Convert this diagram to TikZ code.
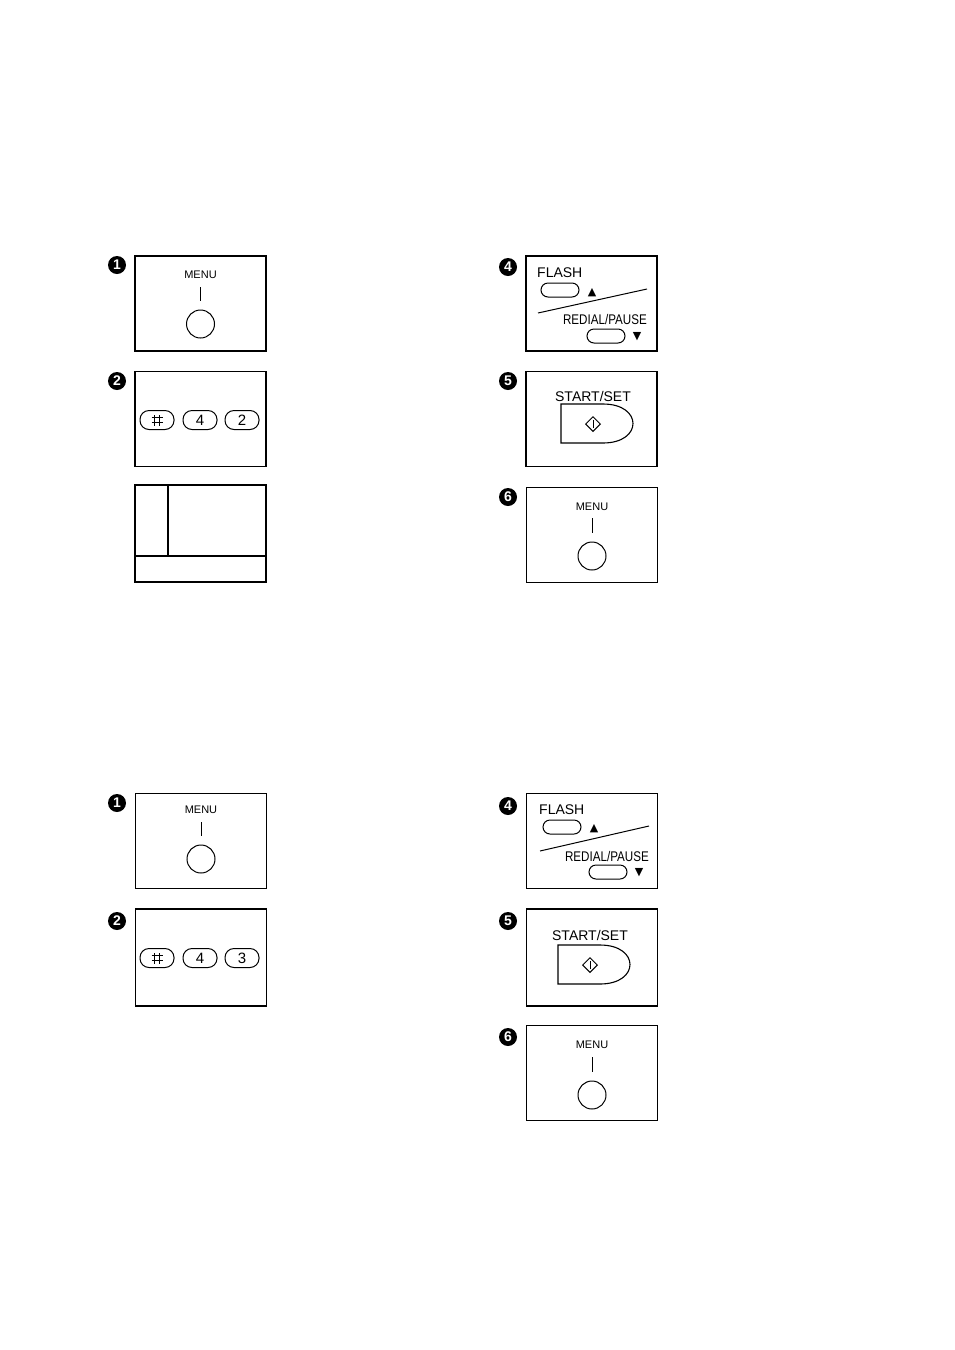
\documentclass[tikz,border=0pt]{standalone}
\usepackage{fontspec}
\usepackage{graphicx}
\setmainfont{Liberation Sans}
\usetikzlibrary{shapes.geometric}
\tikzset{
  panel/.style={draw, line width=1.1pt, minimum width=131pt, minimum height=95pt, inner sep=0pt},
  marker/.style={circle, fill=black, minimum size=18pt, inner sep=0pt, text=white, font=\fontsize{14}{14}\selectfont\bfseries},
  menutxt/.style={font=\fontsize{11}{11}\selectfont, inner sep=0pt},
  bigtxt/.style={font=\fontsize{14}{14}\selectfont, inner sep=0pt},
  roundbtn/.style={draw, circle, line width=1pt, minimum size=28pt, inner sep=0pt},
  keybtn/.style={draw, line width=1pt, rounded corners=9pt, minimum width=34pt, minimum height=19pt, inner sep=0pt, font=\fontsize{15}{15}\selectfont},
  ovalbtn/.style={draw, line width=1pt, rounded corners=7pt, minimum width=38pt, minimum height=14pt, inner sep=0pt},
  thin/.style={line width=1pt},
  tri/.style={font=\fontsize{11}{11}\selectfont, inner sep=0pt}
}
\newcommand{\hashmark}[1]{%
  \draw[line width=1pt] ([shift={(-5.5pt,-2.5pt)}]#1.center) -- ++(11pt,0pt);
  \draw[line width=1pt] ([shift={(-5.5pt,2.5pt)}]#1.center) -- ++(11pt,0pt);
  \draw[line width=1pt] ([shift={(-2.5pt,-5.5pt)}]#1.center) -- ++(0pt,11pt);
  \draw[line width=1pt] ([shift={(2.5pt,-5.5pt)}]#1.center) -- ++(0pt,11pt);}
% menu panel: #1 prefix, #2 cx, #3 cy(box), #4 marker x, #5 marker y, #6 digit, #7 menu y, #8 line top, #9 line bottom
\newcommand{\menupanel}[9]{%
  \node[panel] (#1box) at (#2,#3) {};
  \node[marker] (#1num) at (#4,#5) {#6};
  \node[menutxt] (#1lbl) at (#2,#7) {MENU};
  \coordinate (#1lt) at (#2,#8);
  \coordinate (#1lb) at (#2,#9);
  \draw[thin] (#1lt) -- (#1lb);
  \node[roundbtn] (#1btn) at ([yshift=-23pt]#1lb) {};}
\begin{document}
\begin{tikzpicture}[x=1pt,y=-1pt]
\useasboundingbox (0,0) rectangle (954,1350);
\fill[white] (0,0) rectangle (954,1350);

% ===== Upper set =====
\menupanel{ua}{200.5}{303.5}{117}{265}{1}{275}{287}{301}
% panel 2
\node[panel] (ubbox) at (200.5,419) {};
\node[marker] (ubnum) at (117,381) {2};
\node[keybtn] (ubk1) at (157,420) {};
\hashmark{ubk1}
\node[keybtn] (ubk2) at (200,420) {4};
\node[keybtn] (ubk3) at (242,420) {2};
% panel 3 (blank)
\node[panel, minimum height=97pt] (ucbox) at (200.5,533.5) {};
\coordinate (ucv1) at (168,485);
\coordinate (ucv2) at (168,556);
\coordinate (uch1) at (135,556);
\coordinate (uch2) at (266,556);
\draw[line width=1.1pt] (ucv1) -- (ucv2);
\draw[line width=1.1pt] (uch1) -- (uch2);
% panel 4
\node[panel] (udbox) at (591.5,303.5) {};
\node[marker] (udnum) at (508,267) {4};
\node[bigtxt, anchor=west] (udflash) at (537,273) {FLASH};
\node[ovalbtn] (udb1) at (560,290) {};
\node[tri] (udup) at (592,293) {\fontspec{DejaVu Sans}▲};
\coordinate (uds1) at (538,313);
\coordinate (uds2) at (647,289);
\draw[thin] (uds1) -- (uds2);
\node[bigtxt, anchor=east] (udredial) at (647,319) {\scalebox{0.83}[1]{REDIAL/PAUSE}};
\node[ovalbtn] (udb2) at (606,336) {};
\node[tri] (uddown) at (637,337) {\fontspec{DejaVu Sans}▼};
% panel 5
\node[panel] (uebox) at (591.5,419) {};
\node[marker] (uenum) at (508,381) {5};
\node[bigtxt] (uelbl) at (593,396) {START/SET};
\coordinate (uep1) at (561,404);
\coordinate (uep2) at (603,404);
\coordinate (uep3) at (603,443);
\coordinate (uep4) at (561,443);
\draw[line width=1.1pt] (uep1) -- (uep2) .. controls (643,404) and (643,443) .. (uep3) -- (uep4) -- cycle;
\node[draw, diamond, line width=1pt, minimum size=15pt, inner sep=0pt] (uedia) at (593,424) {};
\draw[line width=1pt] ([yshift=-4pt]uedia.center) -- ([yshift=4pt]uedia.center);
% panel 6
\menupanel{uf}{592}{535}{508}{497}{6}{507}{518}{533}

% ===== Lower set =====
\menupanel{la}{201}{841}{117}{803}{1}{810}{822}{836}
% panel 2
\node[panel, minimum height=97pt] (lbbox) at (201,957.5) {};
\node[marker] (lbnum) at (117,921) {2};
\node[keybtn] (lbk1) at (157,958) {};
\hashmark{lbk1}
\node[keybtn] (lbk2) at (200,958) {4};
\node[keybtn] (lbk3) at (242,958) {3};
% panel 4
\node[panel] (ldbox) at (592,841) {};
\node[marker] (ldnum) at (508,806) {4};
\node[bigtxt, anchor=west] (ldflash) at (539,810) {FLASH};
\node[ovalbtn] (ldb1) at (562,827) {};
\node[tri] (ldup) at (594,829) {\fontspec{DejaVu Sans}▲};
\coordinate (lds1) at (540,851);
\coordinate (lds2) at (649,826);
\draw[thin] (lds1) -- (lds2);
\node[bigtxt, anchor=east] (ldredial) at (649,856) {\scalebox{0.83}[1]{REDIAL/PAUSE}};
\node[ovalbtn] (ldb2) at (608,872) {};
\node[tri] (lddown) at (639,873) {\fontspec{DejaVu Sans}▼};
% panel 5
\node[panel, minimum height=97pt] (lebox) at (592,957.5) {};
\node[marker] (lenum) at (508,921) {5};
\node[bigtxt] (lelbl) at (590,935) {START/SET};
\coordinate (lep1) at (558,945);
\coordinate (lep2) at (600,945);
\coordinate (lep3) at (600,984);
\coordinate (lep4) at (558,984);
\draw[line width=1.1pt] (lep1) -- (lep2) .. controls (640,945) and (640,984) .. (lep3) -- (lep4) -- cycle;
\node[draw, diamond, line width=1pt, minimum size=15pt, inner sep=0pt] (ledia) at (590,965) {};
\draw[line width=1pt] ([yshift=-4pt]ledia.center) -- ([yshift=4pt]ledia.center);
% panel 6
\menupanel{lf}{592}{1073}{508}{1037}{6}{1045}{1057}{1072}
\end{tikzpicture}
\end{document}
